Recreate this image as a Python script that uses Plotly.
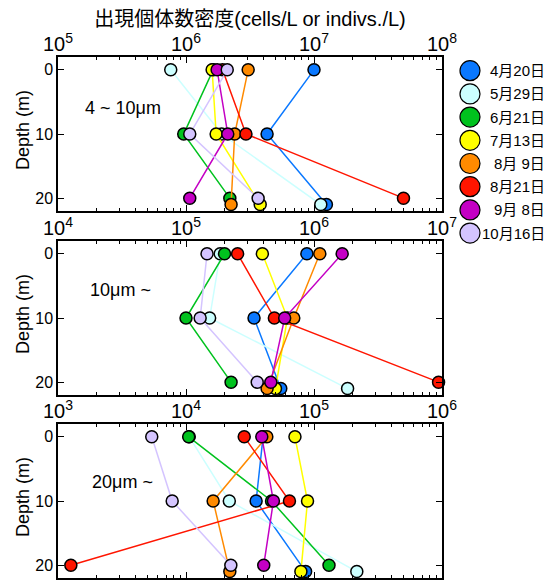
import plotly.graph_objects as go

# ---------------- data ----------------
dates = ["4月20日", "5月29日", "6月21日", "7月13日", "8月 9日", "8月21日", "9月 8日", "10月16日"]
colors = ["#0a78ff", "#ccffff", "#00c21e", "#ffff00", "#ff8a00", "#ff1500", "#c400c4", "#d4c4ff"]

# depths sampled for each date (surface, 10 m, bottom)
depths = [
    [0, 10, 21],  # 4/20
    [0, 10, 21],  # 5/29
    [0, 10, 20],  # 6/21
    [0, 10, 21],  # 7/13
    [0, 10, 21],  # 8/9
    [0, 10, 20],  # 8/21
    [0, 10, 20],  # 9/8
    [0, 10, 20],  # 10/16
]

# 4 ~ 10 um (cells/L)
small_vals = [
    [1.0e7, 4.3e6, 1.25e7],
    [7.6e5, 1.9e6, 1.13e7],
    [1.63e6, 9.6e5, 2.2e6],
    [1.6e6, 1.72e6, 3.8e6],
    [3.06e6, 2.4e6, 2.25e6],
    [1.93e6, 2.94e6, 5.0e7],
    [1.75e6, 2.12e6, 1.07e6],
    [2.1e6, 1.07e6, 3.66e6],
]
# 10 um ~
mid_vals = [
    [8.8e5, 3.4e5, 5.5e5],
    [1.85e5, 1.53e5, 1.83e6],
    [2.0e5, 1.0e5, 2.25e5],
    [3.95e5, 6.2e5, 5.0e5],
    [1.11e6, 6.95e5, 4.3e5],
    [2.53e5, 4.9e5, 9.4e6],
    [1.66e6, 5.9e5, 4.6e5],
    [1.46e5, 1.29e5, 3.6e5],
]
# 20 um ~
large_vals = [
    [4.0e4, 3.53e4, 8.6e4],
    [1.06e4, 2.18e4, 2.16e5],
    [1.05e4, 4.66e4, 1.31e5],
    [7.1e4, 8.9e4, 7.9e4],
    [4.28e4, 1.63e4, 2.2e4],
    [2.85e4, 6.43e4, 1.26e3],
    [3.91e4, 4.82e4, 4.05e4],
    [5.4e3, 7.8e3, 2.24e4],
]

panel_labels = ["4 ~ 10μm", "10μm ~", "20μm ~"]
panel_ranges = [[5, 8], [4, 7], [3, 6]]  # log10 x ranges
depth_ticks = [0, 10, 20]
title = "出現個体数密度(cells/L or indivs./L)"

FONT = "Liberation Sans, Arial, Noto Sans CJK JP, sans-serif"

fig = go.Figure()

panels = [small_vals, mid_vals, large_vals]
for p, vals in enumerate(panels):
    xa = "x" if p == 0 else f"x{p+1}"
    ya = "y" if p == 0 else f"y{p+1}"
    for i, d in enumerate(dates):
        fig.add_trace(go.Scatter(
            x=vals[i], y=depths[i], mode="lines+markers", name=d,
            xaxis=xa, yaxis=ya, cliponaxis=False, showlegend=False,
            line=dict(color=colors[i], width=1.5),
            marker=dict(size=12, color=colors[i], line=dict(color="black", width=1.5)),
        ))

# custom legend (large circles)
fig.add_trace(go.Scatter(
    x=[470] * len(dates), y=list(range(len(dates))), mode="markers",
    xaxis="x4", yaxis="y4", cliponaxis=False, showlegend=False, hoverinfo="skip",
    marker=dict(size=20, color=colors, line=dict(color="black", width=1.2)),
))

# geometry: page pixel coordinates, page body has an 8px margin
OFF = 8
W, H = 557 - OFF, 582 - OFF
ML, MR, MT, MB = 58 - OFF, 0, 57 - OFF, 4
pw = W - ML - MR
ph = H - MT - MB


def fx(px):
    return (px - OFF - ML) / pw


def fy(py):
    return (H - MB - (py - OFF)) / ph


xdom = [0, fx(442)]
panel_px = [(57, 211), (241, 395), (424, 578)]

layout = dict(
    width=W, height=H,
    margin=dict(l=ML, r=MR, t=MT, b=MB, autoexpand=False),
    paper_bgcolor="white", plot_bgcolor="white",
    font=dict(family=FONT, size=16, color="black"),
    showlegend=False,
    title=dict(text=title, x=(250 - OFF) / W, xanchor="center", y=1 - (19 - OFF) / H, yanchor="middle",
               font=dict(size=20, family=FONT, color="black")),
)

annotations = []
for p in range(3):
    sfx = "" if p == 0 else str(p + 1)
    top, bot = panel_px[p]
    layout["xaxis" + sfx] = dict(
        domain=xdom, anchor="y" + sfx, type="log", range=panel_ranges[p],
        side="top", dtick=1, exponentformat="power", automargin=False,
        ticks="inside", ticklen=6, tickwidth=1.2, tickcolor="black", ticklabelstandoff=-3,
        mirror="ticks", showline=True, linecolor="black", linewidth=1.5,
        showgrid=False, zeroline=False,
        minor=dict(ticks="inside", ticklen=3.5, dtick="D1", tickcolor="black", tickwidth=1, showgrid=False),
        tickfont=dict(size=16),
    )
    layout["yaxis" + sfx] = dict(
        domain=[fy(bot), fy(top)], anchor="x" + sfx, range=[22, -2], automargin=False,
        tickvals=depth_ticks, ticks="inside", ticklen=6, tickwidth=1.2, tickcolor="black",
        mirror="ticks", showline=True, linecolor="black", linewidth=1.5,
        showgrid=False, zeroline=False, tickfont=dict(size=16),
    )
    annotations.append(dict(
        text="Depth (m)", textangle=-90, xref="paper", yref="paper",
        x=fx(23), y=fy((top + bot) / 2 - 4),
        xanchor="center", yanchor="middle", showarrow=False, font=dict(size=18),
    ))
    lab_pos = [(83, 108), (88, 290), (90, 482)][p]
    annotations.append(dict(
        text=panel_labels[p], xref="paper", yref="paper",
        x=fx(lab_pos[0]), y=fy(lab_pos[1]),
        xanchor="left", yanchor="middle", showarrow=False, font=dict(size=18),
    ))

# legend axes (x in page pixels, y in item index)
leg_top, leg_bot = 58, 245
y0_px, step = 70.7, 23.2
layout["xaxis4"] = dict(domain=[fx(455), 1.0], anchor="y4", range=[455, 557], visible=False)
layout["yaxis4"] = dict(domain=[fy(leg_bot), fy(leg_top)], anchor="x4",
                        range=[(leg_bot - y0_px) / step, (leg_top - y0_px) / step], visible=False)
for i, d in enumerate(dates):
    annotations.append(dict(
        text=d, xref="x4", yref="y4", x=547, y=i, xanchor="right", yanchor="middle",
        showarrow=False, font=dict(size=15),
    ))

layout["annotations"] = annotations
fig.update_layout(**layout)
fig.write_html("out.html")
